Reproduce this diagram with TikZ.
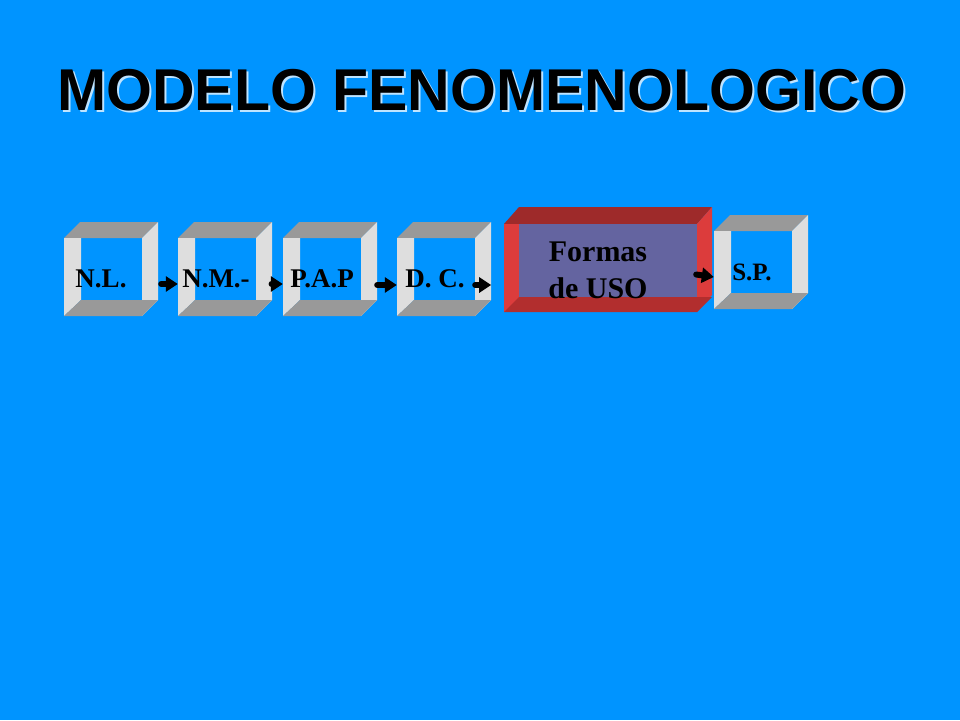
\documentclass[tikz,border=0pt]{standalone}
\usepackage{fontspec}
\setmainfont{Liberation Serif}
\newfontfamily\titulo{Liberation Sans}
\usetikzlibrary{arrows.meta,positioning}
\definecolor{fondo}{RGB}{0,148,255}
\definecolor{grisosc}{RGB}{153,153,153}
\definecolor{grisclaro}{RGB}{222,222,222}
\definecolor{rojo}{RGB}{220,60,60}
\definecolor{rojoosc}{RGB}{158,42,42}
\definecolor{rojomed}{RGB}{178,46,46}
\definecolor{morado}{RGB}{100,100,160}
% open frame box: name, left x, top y
\newcommand{\caja}[3]{%
  \fill[grisosc] (#2,#3+16) -- (#2+16,#3) -- (#2+94,#3) -- (#2+78,#3+16) -- cycle;      % top
  \fill[grisclaro] (#2+78,#3+16) -- (#2+94,#3) -- (#2+94,#3+78) -- (#2+78,#3+94) -- cycle; % right
  \fill[grisclaro] (#2,#3+16) -- (#2+17,#3+16) -- (#2+17,#3+78) -- (#2,#3+94) -- cycle;   % left
  \fill[grisosc] (#2,#3+94) -- (#2+17,#3+78) -- (#2+94,#3+78) -- (#2+78,#3+94) -- cycle;  % bottom
  \node[minimum width=94pt,minimum height=94pt,inner sep=0pt] (#1) at (#2+47,#3+47) {};
}
% title with light shadow
\newcommand{\sombreado}[1]{\makebox[0pt][l]{\hspace{2pt}\raisebox{-2.5pt}{\color{white!75!fondo}#1}}#1}

\begin{document}
\begin{tikzpicture}[x=1pt,y=-1pt,
    etiqueta/.style={anchor=base,font=\bfseries\fontsize{27}{30}\selectfont,inner sep=0pt},
    flecha/.style={line width=6pt,line cap=round,-{Triangle[length=12pt,width=15pt]}}]
  \fill[fondo] (0,0) rectangle (960,720) ;  %Background
  \useasboundingbox (0,0) rectangle (960,720);

  \node[font=\titulo\bfseries\fontsize{59}{66}\selectfont,anchor=base,inner sep=0pt] (titulo) at (481.5,110) {\sombreado{MODELO FENOMENOLOGICO}};

  \caja{nl}{64}{222}   % N.L.
  \caja{nm}{178}{222}  % N.M.-
  \caja{pap}{283}{222} % P.A.P
  \caja{dc}{397}{222}  % D. C.
  \caja{sp}{714}{215}  % S.P.

  % Formas de USO box
  \fill[rojoosc] (504,224) -- (519,207) -- (712,207) -- (697,224) -- cycle;
  \fill[rojo] (697,224) -- (712,207) -- (712,295) -- (697,312) -- cycle;
  \fill[rojo] (504,224) rectangle (697,312);
  \fill[rojomed] (504,312) -- (519,297) -- (712,297) -- (697,312) -- cycle;
  \fill[morado] (519,224) rectangle (697,297);
  \node[minimum width=208pt,minimum height=105pt,inner sep=0pt] (uso) at (608,259.5) {};

  \node[etiqueta] (tnl) at (101,287) {N.L.};
  \node[etiqueta] (tnm) at (216,287) {N.M.-};
  \node[etiqueta] (tpap) at (322,287) {P.A.P};
  \node[etiqueta] (tdc) at (435,287) {D. C.};
  \node[etiqueta,font=\bfseries\fontsize{25}{28}\selectfont] (tsp) at (752,280) {S.P.};
  \node[align=center,font=\bfseries\fontsize{30}{37}\selectfont,inner sep=0pt] (tuso) at (598,270) {Formas\\ de USO};

  \draw[flecha] ([xshift=3pt,yshift=-15pt]nl.east) -- ([yshift=-15pt]nm.west);
  \draw[flecha] ([xshift=3pt,yshift=-15pt]nm.east) -- ([yshift=-15pt]pap.west);
  \draw[flecha] ([xshift=0pt,yshift=-16pt]pap.east) -- ([yshift=-16pt]dc.west);
  \draw[flecha] ([xshift=-16pt,yshift=-16pt]dc.east) -- ([yshift=-16pt]dc.east);
  \draw[flecha] ([xshift=-16pt,yshift=-15pt]uso.east) -- ([yshift=-15pt]sp.west);
\end{tikzpicture}
\end{document}
